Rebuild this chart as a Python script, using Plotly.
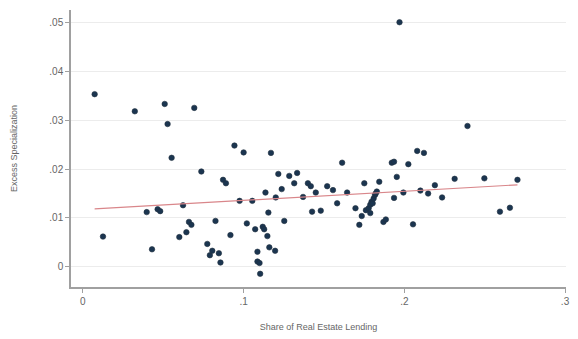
import numpy as np
import plotly.graph_objects as go

# Share of real estate lending (x) and excess specialization (y), one point per bank
share_re_lending = [
    0.0073, 0.0125, 0.0323, 0.0397, 0.0430, 0.0465, 0.0481, 0.0509, 0.0527, 0.0552,
    0.0600, 0.0623, 0.0644, 0.0660, 0.0675, 0.0693,
    0.0737, 0.0774, 0.0790, 0.0805, 0.0825, 0.0846, 0.0856, 0.0872, 0.0890, 0.0918,
    0.0943, 0.0975, 0.1000, 0.1020, 0.1054, 0.1072, 0.1086, 0.1086, 0.1099, 0.1103,
    0.1119, 0.1128, 0.1136, 0.1148, 0.1154, 0.1160, 0.1170, 0.1196, 0.1200, 0.1216,
    0.1237, 0.1253, 0.1284, 0.1315, 0.1333,
    0.1370, 0.1400, 0.1418, 0.1426, 0.1449, 0.1480, 0.1520, 0.1556, 0.1582, 0.1613,
    0.1644, 0.1696, 0.1720, 0.1735, 0.1751, 0.1761, 0.1778, 0.1788, 0.1788, 0.1796,
    0.1803, 0.1809, 0.1817, 0.1822, 0.1829, 0.1844, 0.1870, 0.1885, 0.1922, 0.1936,
    0.1936, 0.1953, 0.1970, 0.1994, 0.2025, 0.2054, 0.2080, 0.2100, 0.2122, 0.2148,
    0.2190, 0.2235, 0.2313, 0.2393, 0.2498, 0.2595, 0.2657, 0.2704,
]
excess_specialization = [
    0.0353, 0.0062, 0.0318, 0.0112, 0.0036, 0.0118, 0.0114, 0.0333, 0.0292, 0.0223,
    0.0061, 0.0126, 0.0071, 0.0092, 0.0086, 0.0325,
    0.0195, 0.0047, 0.0024, 0.0033, 0.0094, 0.0028, 0.0009, 0.0178, 0.0171, 0.0065,
    0.0248, 0.0135, 0.0234, 0.0089, 0.0135, 0.0077, 0.0031, 0.0011, 0.0008, -0.0014,
    0.0082, 0.0077, 0.0152, 0.0063, 0.0111, 0.0040, 0.0233, 0.0033, 0.0142, 0.0190,
    0.0159, 0.0094, 0.0186, 0.0171, 0.0192,
    0.0143, 0.0171, 0.0165, 0.0113, 0.0152, 0.0115, 0.0165, 0.0157, 0.0130, 0.0213,
    0.0152, 0.0120, 0.0086, 0.0104, 0.0171, 0.0116, 0.0120, 0.0127, 0.0110, 0.0133,
    0.0130, 0.0140, 0.0147, 0.0150, 0.0154, 0.0174, 0.0092, 0.0097, 0.0213, 0.0215,
    0.0141, 0.0184, 0.0500, 0.0152, 0.0210, 0.0087, 0.0237, 0.0156, 0.0233, 0.0150,
    0.0167, 0.0142, 0.0180, 0.0288, 0.0181, 0.0113, 0.0121, 0.0178,
]

x_tick_vals = [0, 0.1, 0.2, 0.3]
x_tick_text = ["0", ".1", ".2", ".3"]
y_tick_vals = [0, 0.01, 0.02, 0.03, 0.04, 0.05]
y_tick_text = ["0", ".01", ".02", ".03", ".04", ".05"]

x = np.array(share_re_lending)
y = np.array(excess_specialization)

# Linear fit over the sample range
slope, intercept = np.polyfit(x, y, 1)
fit_x = np.array([x.min(), x.max()])
fit_y = intercept + slope * fit_x

font_color = "#666666"

fig = go.Figure()
fig.add_trace(go.Scatter(
    x=x, y=y, mode="markers",
    marker=dict(size=5.5, color="#1b3550", line=dict(width=0.6, color="#22303f")),
    showlegend=False,
))
fig.add_trace(go.Scatter(
    x=fit_x, y=fit_y, mode="lines",
    line=dict(color="#d9868a", width=1.2),
    showlegend=False,
))

fig.update_layout(
    width=578, height=339,
    margin=dict(l=71, r=8, t=10, b=52),
    paper_bgcolor="white", plot_bgcolor="white",
    font=dict(family="Liberation Sans, Arial, sans-serif", size=9, color=font_color),
    xaxis=dict(
        range=[-0.0074, 0.3006],
        tickvals=x_tick_vals, ticktext=x_tick_text,
        showgrid=False, zeroline=False,
        showline=True, linecolor="#a0a0a0", linewidth=1.5,
        ticks="outside", ticklen=4, tickcolor="#a0a0a0", tickwidth=1,
        title=dict(text="Share of Real Estate Lending", standoff=18,
                   font=dict(size=9, color=font_color)),
        tickfont=dict(size=10, color=font_color),
    ),
    yaxis=dict(
        range=[-0.0041, 0.0525],
        tickvals=y_tick_vals, ticktext=y_tick_text,
        showgrid=True, gridcolor="#ececec", gridwidth=1, zeroline=False,
        showline=True, linecolor="#a0a0a0", linewidth=1.5,
        ticks="outside", ticklen=4, tickcolor="#a0a0a0", tickwidth=1,
        title=dict(text="Excess Specialization", standoff=30,
                   font=dict(size=9, color=font_color)),
        tickfont=dict(size=10, color=font_color),
    ),
)

fig.write_html("out.html")
